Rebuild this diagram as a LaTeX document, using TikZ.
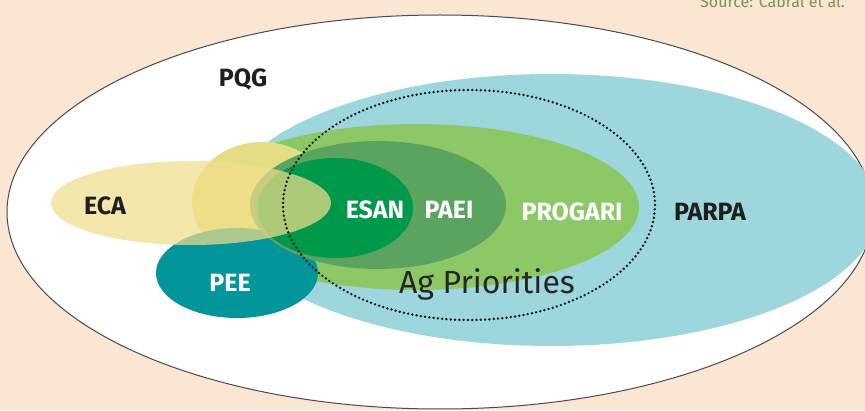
\documentclass[tikz,border=0pt]{standalone}
\usepackage{fontspec}
\setmainfont{Fira Sans}
\definecolor{bgpeach}{HTML}{FBE6D3}
\definecolor{parpablue}{HTML}{9ED6DE}
\definecolor{progreen}{HTML}{8DC866}
\definecolor{paeigreen}{HTML}{5BA45F}
\definecolor{esangreen}{HTML}{00984A}
\definecolor{peeteal}{HTML}{02959A}
\definecolor{ecayellow}{HTML}{F1DE8C}
\definecolor{blobyellow}{HTML}{E3DE84}
\definecolor{srcgreen}{HTML}{7F925C}
\definecolor{outline}{HTML}{4A4A4A}
\tikzset{
  lbl/.style={font=\bfseries\fontsize{25}{25}\selectfont, inner sep=0pt, anchor=base},
  dark/.style={lbl, text=black!88},
  light/.style={lbl, text=white},
}
\begin{document}
\begin{tikzpicture}[x=1pt,y=1pt]
\useasboundingbox (0,0) rectangle (865,410);
\clip (0,0) rectangle (865,410);
\fill[bgpeach] (0,0) rectangle (865,410);
% source
\node[font=\fontsize{16}{16}\selectfont, text=srcgreen, anchor=base west, inner sep=0pt] (src) at (700,402) {Source: Cabral et al.};
% outer PQG ellipse
\filldraw[fill=white, draw=outline, line width=1pt] (440,198) ellipse [x radius=433, y radius=197];
% PARPA
\fill[parpablue] (551,200) ellipse [x radius=327, y radius=136];
% PROGARI
\fill[progreen] (416,203) ellipse [x radius=223, y radius=83];
% yellow blob
\fill[blobyellow] (262,208) ellipse [x radius=70, y radius=60];
% PEE
\fill[peeteal] (237,137) ellipse [x radius=81, y radius=45];
% PAEI
\fill[paeigreen] (378,205) ellipse [x radius=128, y radius=64];
% ESAN
\fill[esangreen] (335,202) ellipse [x radius=78, y radius=50];
% ECA
\fill[ecayellow, fill opacity=0.72] (191,207) ellipse [x radius=140, y radius=42];
% Ag priorities dotted
\draw[black!90, line width=2.7pt, dash pattern=on 0pt off 4.3pt, line cap=round] (469,205) ellipse [x radius=186, y radius=115];
% labels
\node[dark] (pqg) at (243,323) {PQG};
\node[dark] (eca) at (105,195) {ECA};
\node[light] (esan) at (375,191) {ESAN};
\node[light] (paei) at (449,191) {PAEI};
\node[light] (progari) at (572,189) {PROGARI};
\node[dark] (parpa) at (710,189) {PARPA};
\node[light] (pee) at (230,118) {PEE};
\node[font=\fontsize{32}{32}\selectfont, text=black!85, anchor=base, inner sep=0pt] (ag) at (487,117) {Ag Priorities};
\end{tikzpicture}
\end{document}
